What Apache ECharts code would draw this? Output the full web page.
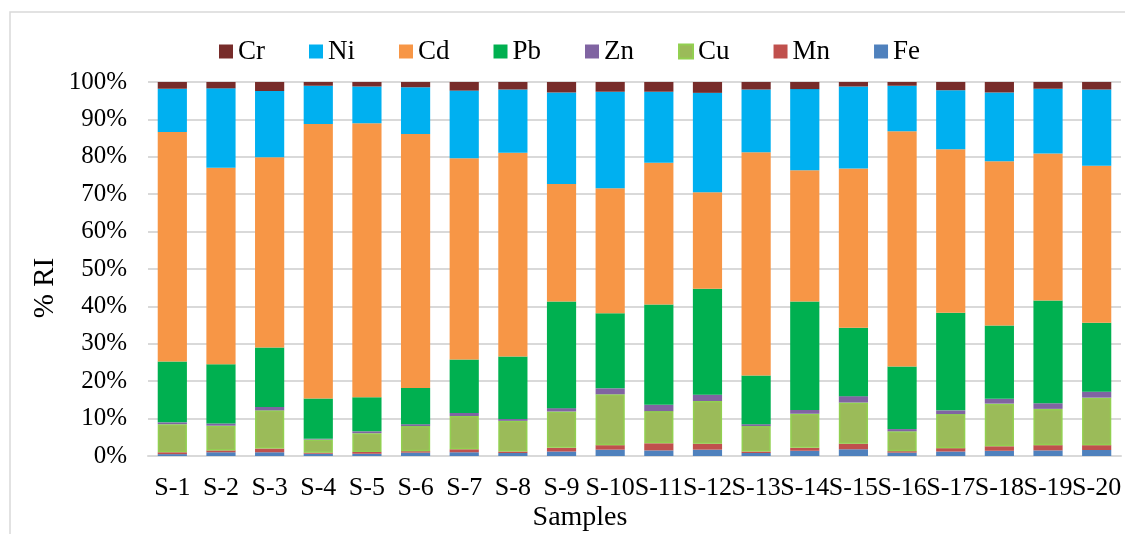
<!DOCTYPE html>
<html>
<head>
<meta charset="utf-8">
<script src="https://cdn.jsdelivr.net/npm/echarts@6/dist/echarts.min.js"></script>
<style>
  html, body { margin: 0; padding: 0; background: #fff; }
  #chart { width: 1125px; height: 534px; }
</style>
</head>
<body>
<div id="chart"></div>
<script>
// Share of potential ecological risk index (% RI) per metal, by sample
const samples = ['S-1','S-2','S-3','S-4','S-5','S-6','S-7','S-8','S-9','S-10',
                 'S-11','S-12','S-13','S-14','S-15','S-16','S-17','S-18','S-19','S-20'];

const fe = [0.5, 1.0, 1.0, 0.6, 0.6, 0.9, 1.0, 0.8, 1.2, 1.7, 1.5, 1.7, 0.8, 1.4, 1.8, 0.9, 1.2, 1.4, 1.5, 1.6];
const mn = [0.5, 0.5, 1.0, 0.3, 0.5, 0.4, 0.8, 0.4, 1.0, 1.2, 1.9, 1.6, 0.4, 0.8, 1.5, 0.4, 0.9, 1.2, 1.4, 1.3];
const cu = [7.5, 6.6, 10.2, 3.5, 5.0, 6.7, 8.9, 8.2, 9.7, 13.6, 8.6, 11.4, 6.8, 9.1, 11.0, 5.3, 9.1, 11.4, 9.7, 12.7];
const zn = [0.5, 0.6, 0.9, 0.2, 0.5, 0.5, 0.8, 0.5, 0.9, 1.6, 1.7, 1.7, 0.5, 1.0, 1.7, 0.6, 1.0, 1.3, 1.5, 1.6];
const pb = [16.3, 15.8, 15.9, 10.8, 9.1, 9.7, 14.3, 16.7, 28.5, 20.1, 26.8, 28.3, 13.0, 29.0, 18.3, 16.7, 26.1, 19.6, 27.5, 18.4];
const cd = [61.3, 52.6, 50.9, 73.4, 73.3, 67.9, 53.8, 54.5, 31.4, 33.4, 37.9, 25.8, 59.7, 35.1, 42.6, 62.9, 43.7, 43.9, 39.3, 42.0];
const ni = [11.6, 21.2, 17.7, 10.2, 9.8, 12.5, 18.1, 16.9, 24.5, 25.8, 19.0, 26.6, 16.8, 21.7, 21.9, 12.2, 15.8, 18.4, 17.3, 20.4];
const cr = [1.8, 1.7, 2.4, 1.0, 1.2, 1.4, 2.3, 2.0, 2.8, 2.6, 2.6, 2.9, 2.0, 1.9, 1.2, 1.0, 2.2, 2.8, 1.8, 2.0];

const legendOrder = ['Cr', 'Ni', 'Cd', 'Pb', 'Zn', 'Cu', 'Mn', 'Fe'];

const FONT = 'Liberation Serif';

// bottom-to-top stacking order
const layers = [
  { name: 'Fe', data: fe, color: '#4F81BD' },
  { name: 'Mn', data: mn, color: '#C0504D' },
  { name: 'Cu', data: cu, color: '#9BBB59', border: '#92D050' },
  { name: 'Zn', data: zn, color: '#8064A2' },
  { name: 'Pb', data: pb, color: '#00B050' },
  { name: 'Cd', data: cd, color: '#F79646' },
  { name: 'Ni', data: ni, color: '#00B0F0' },
  { name: 'Cr', data: cr, color: '#772C2A' }
];

const chart = echarts.init(document.getElementById('chart'), null, { renderer: 'canvas' });

chart.setOption({
  backgroundColor: '#ffffff',
  animation: false,
  graphic: [{
    type: 'rect',
    shape: { x: 10, y: 12, width: 1200, height: 600 },
    style: { fill: 'none', stroke: '#d9d9d9', lineWidth: 1.5 },
    silent: true,
    z: -10
  }, {
    // y-axis title
    type: 'text',
    x: 45,
    y: 288,
    rotation: Math.PI / 2,
    style: {
      text: '% RI',
      font: '29px "Liberation Serif"',
      fill: '#000',
      align: 'center',
      verticalAlign: 'middle'
    },
    silent: true
  }, {
    // x-axis title
    type: 'text',
    x: 580,
    y: 518,
    style: {
      text: 'Samples',
      font: '28px "Liberation Serif"',
      fill: '#000',
      align: 'center',
      verticalAlign: 'middle'
    },
    silent: true
  }],
  legend: {
    data: legendOrder,
    left: 214,
    top: 33,
    itemWidth: 14,
    itemHeight: 14,
    itemGap: 44,
    icon: 'rect',
    textStyle: { fontFamily: FONT, fontSize: 27, color: '#000' }
  },
  grid: { left: 148, right: 4, top: 82, bottom: 78, containLabel: false, outerBoundsMode: 'none' },
  xAxis: {
    type: 'category',
    data: samples,
    axisLine: { lineStyle: { color: '#d9d9d9', width: 2 } },
    axisTick: { show: false },
    axisLabel: { fontFamily: FONT, fontSize: 26, color: '#000', margin: 19, interval: 0 }
  },
  yAxis: {
    type: 'value',
    min: 0,
    max: 100,
    interval: 10,
    axisLine: { show: false },
    axisTick: { show: false },
    axisLabel: { fontFamily: FONT, fontSize: 25, color: '#000', margin: 21, formatter: '{value}%' },
    splitLine: { lineStyle: { color: '#d9d9d9', width: 2 } }
  },
  series: layers.map(l => ({
    name: l.name,
    type: 'bar',
    stack: 'ri',
    data: l.data,
    barCategoryGap: '40%',
    itemStyle: {
      color: l.color,
      borderColor: l.border || l.color,
      borderWidth: l.border ? 1.5 : 0
    }
  }))
});
</script>
</body>
</html>
